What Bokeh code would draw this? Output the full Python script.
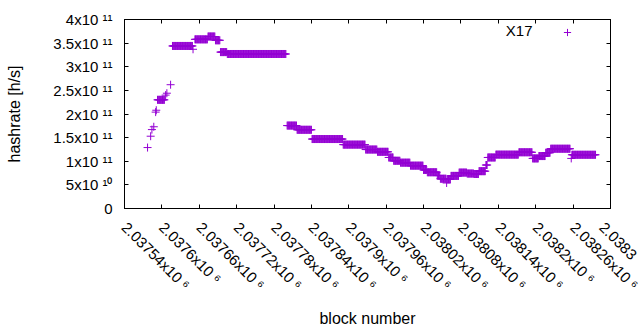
import numpy as np
from bokeh.plotting import figure
from bokeh.models import (Range1d, FixedTicker, LinearAxis, Legend, LegendItem,
                          Label, ColumnDataSource)
from bokeh.core.properties import value
from bokeh.embed import file_html
from bokeh.resources import INLINE

# ---- data: runs of consecutive blocks sharing one hashrate estimate ----
run_start = [2037577, 2037582, 2037584, 2037587, 2037590, 2037591, 2037593, 2037606,
             2037608, 2037614, 2037617, 2037650, 2037653, 2037674, 2037686, 2037694,
             2037705, 2037801, 2037817, 2037841, 2037891, 2037927, 2037946, 2037964,
             2037972, 2037983, 2037999, 2038020, 2038026, 2038042, 2038047, 2038057,
             2038058, 2038064, 2038077, 2038090, 2038101, 2038109, 2038120, 2038123,
             2038136, 2038173, 2038195, 2038205, 2038216, 2038224, 2038257, 2038258]
run_count = [1, 1, 1, 1, 1, 1, 12, 1,
             1, 1, 33, 1, 21, 12, 8, 11,
             95, 16, 24, 50, 36, 19, 18, 8,
             11, 16, 21, 6, 16, 5, 10, 1,
             6, 13, 13, 11, 8, 11, 3, 13,
             37, 22, 10, 11, 8, 32, 1, 39]
run_hashrate = [1.29e11, 1.53e11, 1.67e11, 1.73e11, 2.04e11, 2.08e11, 2.30e11, 2.40e11,
                2.44e11, 2.62e11, 3.44e11, 3.37e11, 3.58e11, 3.64e11, 3.56e11, 3.31e11,
                3.27e11, 1.755e11, 1.666e11, 1.47e11, 1.352e11, 1.248e11, 1.20e11, 1.08e11,
                1.01e11, 0.97e11, 0.907e11, 0.815e11, 0.767e11, 0.698e11, 0.63e11, 0.54e11,
                0.62e11, 0.69e11, 0.76e11, 0.74e11, 0.73e11, 0.79e11, 0.92e11, 1.08e11,
                1.14e11, 1.19e11, 1.06e11, 1.11e11, 1.18e11, 1.265e11, 1.06e11, 1.137e11]

series_name = "X17"

x_tick_values = [2037540, 2037600, 2037660, 2037720, 2037780, 2037840, 2037900,
                 2037960, 2038020, 2038080, 2038140, 2038200, 2038260, 2038320]
# the last label is cut by the image edge in the reference; only its visible part is kept
x_tick_labels = ["2.03754x10 \u2076", "2.0376x10 \u2076", "2.03766x10 \u2076",
                 "2.03772x10 \u2076", "2.03778x10 \u2076", "2.03784x10 \u2076",
                 "2.0379x10 \u2076", "2.03796x10 \u2076", "2.03802x10 \u2076",
                 "2.03808x10 \u2076", "2.03814x10 \u2076", "2.0382x10 \u2076",
                 "2.03826x10 \u2076", "2.0383"]
y_tick_values = [0, 5e10, 1e11, 1.5e11, 2e11, 2.5e11, 3e11, 3.5e11, 4e11]
y_tick_labels = ["0", "5x10 \u00b9\u2070", "1x10 \u00b9\u00b9", "1.5x10 \u00b9\u00b9",
                 "2x10 \u00b9\u00b9", "2.5x10 \u00b9\u00b9", "3x10 \u00b9\u00b9",
                 "3.5x10 \u00b9\u00b9", "4x10 \u00b9\u00b9"]

# expand runs into one point per block
blocks = np.concatenate([np.arange(s, s + c) for s, c in zip(run_start, run_count)])
rates = np.repeat(run_hashrate, run_count)
src = ColumnDataSource(dict(block=blocks, hashrate=rates))

FONT = "Liberation Sans"
COLOR = "#9400D3"

p = figure(width=640, height=330, output_backend="svg", toolbar_location=None,
           x_range=Range1d(x_tick_values[0], x_tick_values[-1]),
           y_range=Range1d(y_tick_values[0], y_tick_values[-1]),
           min_border_left=124, min_border_right=30, min_border_top=19,
           min_border_bottom=119, background_fill_color="white",
           border_fill_color="white")
p.xgrid.visible = False
p.ygrid.visible = False
p.outline_line_color = "black"
p.outline_line_width = 1

r = p.scatter(x="block", y="hashrate", source=src, marker="cross", size=8,
              line_color=COLOR, line_width=1)

xt = FixedTicker(ticks=x_tick_values)
yt = FixedTicker(ticks=y_tick_values)

xa = p.xaxis[0]
xa.ticker = xt
xa.major_label_overrides = {v: l for v, l in zip(x_tick_values, x_tick_labels)}
xa.major_label_orientation = -np.pi / 4
xa.major_label_standoff = 16
xa.axis_label = "block number"
xa.axis_label_standoff = 8

ya = p.yaxis[0]
ya.ticker = yt
ya.major_label_overrides = {v: l for v, l in zip(y_tick_values, y_tick_labels)}
ya.major_label_standoff = 12
ya.axis_label = "hashrate [h/s]"
ya.axis_label_standoff = 27

for ax in (xa, ya):
    ax.major_tick_in = 4
    ax.major_tick_out = 0
    ax.minor_tick_line_color = None
    ax.axis_line_color = "black"
    ax.major_tick_line_color = "black"
    ax.major_label_text_font = FONT
    ax.major_label_text_font_size = "15px"
    ax.major_label_text_color = "black"
    ax.axis_label_text_font = FONT
    ax.axis_label_text_font_size = "16px"
    ax.axis_label_text_font_style = "normal"
    ax.axis_label_text_color = "black"

# mirrored ticks on the top and right edges (no labels)
for side, tk in (("above", xt), ("right", yt)):
    ax = LinearAxis(ticker=tk, major_tick_in=4, major_tick_out=0,
                    minor_tick_line_color=None, major_label_text_font_size="1px",
                    major_label_text_color=None, major_label_standoff=0,
                    axis_line_color="black", major_tick_line_color="black")
    p.add_layout(ax, side)

legend = Legend(items=[LegendItem(label=value(""), renderers=[r])],
                location="top_right", margin=4, padding=0, spacing=0,
                glyph_width=18, glyph_height=18, label_width=30, label_height=18,
                label_standoff=0, border_line_color=None, background_fill_alpha=0)
p.add_layout(legend)

p.add_layout(Label(x=408, y=178, x_units="screen", y_units="screen", text=series_name,
                   text_align="right", text_baseline="middle",
                   text_font=FONT, text_font_size="15px", text_color="black"))

open("out.html", "w").write(file_html(p, INLINE))
